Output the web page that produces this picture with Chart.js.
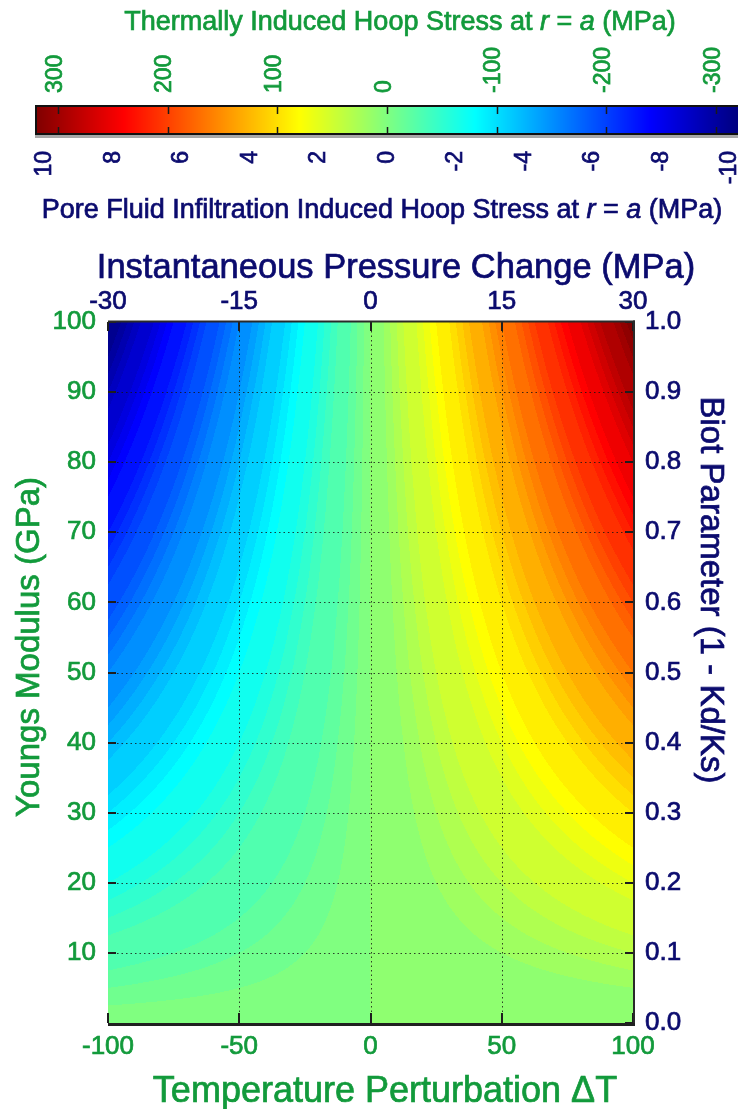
<!DOCTYPE html>
<html>
<head>
<meta charset="utf-8">
<script src="https://cdn.jsdelivr.net/npm/chart.js@4.4.1/dist/chart.umd.min.js"></script>
<style>
  html, body { margin: 0; padding: 0; background: #fff; }
  canvas { display: block; }
</style>
</head>
<body>
<canvas id="bar" width="738" height="230"></canvas>
<canvas id="field" width="738" height="879"></canvas>
<script>
const GREEN = '#129a3b', NAVY = '#0b0b6e';
const FONT = "'Liberation Sans', Arial, Helvetica, sans-serif";

// sampled grid: temperature perturbation (deg) x Young's modulus (GPa)
const tempPerturbation = [-100, -50, 0, 50, 100];
const youngsModulus = [0, 20, 40, 60, 80, 100];
// thermally induced hoop stress at r = a (MPa), one row per modulus value
const hoopStress = [
  [   0,    0, 0,   0,   0],
  [ -64,  -32, 0,  32,  64],
  [-128,  -64, 0,  64, 128],
  [-192,  -96, 0,  96, 192],
  [-256, -128, 0, 128, 256],
  [-320, -160, 0, 160, 320]
];
const stressRange = [-320, 320];   // colour axis limits (MPa)
const levelStep = 8;               // contour spacing (MPa)

const tempTicks = [-100, -50, 0, 50, 100];
const modulusTicks = [10, 20, 30, 40, 50, 60, 70, 80, 90, 100];
const pressureTicks = [-30, -15, 0, 15, 30];
const biotTicks = [0, 0.1, 0.2, 0.3, 0.4, 0.5, 0.6, 0.7, 0.8, 0.9, 1.0];
const thermalTicks = [300, 200, 100, 0, -100, -200, -300];
const poreTicks = [10, 8, 6, 4, 2, 0, -2, -4, -6, -8, -10];

// matlab-style jet colormap with m entries
function jetMap(m){
  const n = Math.ceil(m / 4), u = [];
  for (let i = 1; i <= n; i++) u.push(i / n);
  for (let i = 1; i < n; i++) u.push(1);
  for (let i = n; i >= 1; i--) u.push(i / n);
  const g0 = Math.ceil(n / 2) - (m % 4 === 1 ? 1 : 0);
  const map = Array.from({length: m}, () => [0, 0, 0]);
  u.forEach((v, k) => {
    const g = g0 + k + 1, r = g + n, b = g - n;
    if (g >= 1 && g <= m) map[g - 1][1] = v;
    if (r >= 1 && r <= m) map[r - 1][0] = v;
    if (b >= 1 && b <= m) map[b - 1][2] = v;
  });
  return map;
}
const JET = jetMap(64);

function smoothJet(t){
  const c = v => Math.max(0, Math.min(1, v));
  return [c(1.5 - Math.abs(4 * t - 3)), c(1.5 - Math.abs(4 * t - 2)), c(1.5 - Math.abs(4 * t - 1))];
}

function bandColour(z){
  const [lo, hi] = stressRange;
  let L = Math.floor(z / levelStep) * levelStep;
  L = Math.max(lo, Math.min(hi - levelStep, L));
  const idx = Math.max(0, Math.min(63, Math.floor((L - lo) / (hi - lo) * 64)));
  return JET[idx];
}

function seg(arr, v){
  let i = 0;
  while (i < arr.length - 2 && v > arr[i + 1]) i++;
  return [i, (v - arr[i]) / (arr[i + 1] - arr[i])];
}
// bilinear value inside the sampled grid
function stressAt(t, e){
  const [i, fx] = seg(tempPerturbation, t);
  const [j, fy] = seg(youngsModulus, e);
  const a = hoopStress[j][i], b = hoopStress[j][i + 1];
  const c = hoopStress[j + 1][i], d = hoopStress[j + 1][i + 1];
  return (a * (1 - fx) + b * fx) * (1 - fy) + (c * (1 - fx) + d * fx) * fy;
}

function fixedSize(size){
  return s => {
    if (s.isHorizontal()) { s.height = size; s.paddingLeft = 0; s.paddingRight = 0; }
    else { s.width = size; s.paddingTop = 0; s.paddingBottom = 0; }
  };
}
const useTicks = list => s => { s.ticks = list.map(v => ({value: v})); };

function axis(position, min, max, ticks, size, colour, fontSize, pad, fmt){
  return {
    type: 'linear', position, min, max,
    afterBuildTicks: useTicks(ticks), afterFit: fixedSize(size),
    grid: {display: false, drawTicks: false}, border: {display: false},
    ticks: {autoSkip: false, maxRotation: 0, padding: pad, color: colour,
      textStrokeColor: colour, textStrokeWidth: 0.7,
      font: {family: FONT, size: fontSize}, callback: fmt || (v => String(v))}
  };
}

// text with italic pieces, centred on the origin, baseline at 0
function drawRich(ctx, parts, size, colour){
  const fonts = parts.map(p => (p[1] ? 'italic ' : '') + size + 'px ' + FONT);
  let total = 0;
  const widths = parts.map((p, i) => { ctx.font = fonts[i]; const w = ctx.measureText(p[0]).width; total += w; return w; });
  let x = -total / 2;
  ctx.fillStyle = colour; ctx.strokeStyle = colour; ctx.lineWidth = 0.7;
  ctx.textBaseline = 'alphabetic'; ctx.textAlign = 'left';
  parts.forEach((p, i) => {
    ctx.font = fonts[i];
    ctx.fillText(p[0], x, 0); ctx.strokeText(p[0], x, 0);
    x += widths[i];
  });
}
const Titles = {
  id: 'titles',
  afterDraw(chart, _args, opts){
    const {ctx} = chart;
    (opts.items || []).forEach(t => {
      ctx.save(); ctx.translate(t.x, t.y); ctx.rotate(t.rot || 0);
      drawRich(ctx, t.parts, t.size, t.color);
      ctx.restore();
    });
  }
};

// ---------- colour bar ----------
const ColourStrip = {
  id: 'colourStrip',
  beforeDatasetsDraw(chart){
    const {ctx, chartArea: a, scales: {thermal}} = chart;
    const [lo, hi] = stressRange;
    for (let px = Math.floor(a.left); px < a.right; px++){
      const v = thermal.getValueForPixel(px + 0.5);
      const [r, g, b] = smoothJet((v - lo) / (hi - lo));
      ctx.fillStyle = `rgb(${r * 255},${g * 255},${b * 255})`;
      ctx.fillRect(px, a.top, 1, a.bottom - a.top);
    }
  },
  afterDatasetsDraw(chart){
    const {ctx, chartArea: a, scales: {thermal}} = chart;
    ctx.save();
    ctx.fillStyle = '#a8a8a8'; ctx.fillRect(a.left, a.bottom, a.right - a.left, 3);
    ctx.strokeStyle = '#1a1a1a'; ctx.lineWidth = 1.5;
    thermalTicks.forEach(v => {
      const x = Math.round(thermal.getPixelForValue(v)) + 0.5;
      ctx.beginPath();
      ctx.moveTo(x, a.top); ctx.lineTo(x, a.top + 9);
      ctx.moveTo(x, a.bottom); ctx.lineTo(x, a.bottom - 8);
      ctx.stroke();
    });
    ctx.lineWidth = 2; ctx.strokeStyle = '#111';
    ctx.beginPath();
    ctx.moveTo(a.right, a.top + 1); ctx.lineTo(a.left + 1, a.top + 1);
    ctx.lineTo(a.left + 1, a.bottom - 1); ctx.lineTo(a.right, a.bottom - 1);
    ctx.stroke();
    ctx.restore();
  }
};

const thermalAxis = axis('top', -320, 321, thermalTicks, 105, GREEN, 23, 12);
thermalAxis.reverse = true;
Object.assign(thermalAxis.ticks, {minRotation: 90, maxRotation: 90, labelOffset: 25});
const poreAxis = axis('bottom', -10.23, 10.29, poreTicks, 95, NAVY, 23, 16);
poreAxis.reverse = true;
Object.assign(poreAxis.ticks, {minRotation: 90, maxRotation: 90});
poreAxis.axis = 'x'; thermalAxis.axis = 'x';

new Chart(document.getElementById('bar'), {
  type: 'scatter',
  data: {datasets: []},
  options: {
    responsive: false, animation: false, events: [], devicePixelRatio: 1,
    layout: {padding: {left: 35, right: 0, top: 0, bottom: 0}},
    plugins: {legend: {display: false}, tooltip: {enabled: false},
      titles: {items: [
        {x: 400, y: 30, size: 27, color: GREEN,
          parts: [['Thermally Induced Hoop Stress at '], ['r', 1], [' = '], ['a', 1], [' (MPa)']]},
        {x: 382, y: 218, size: 27, color: NAVY,
          parts: [['Pore Fluid Infiltration Induced Hoop Stress at '], ['r', 1], [' = '], ['a', 1], [' (MPa)']]}
      ]}},
    scales: {thermal: thermalAxis, pore: poreAxis, y: {display: false, min: 0, max: 1}}
  },
  plugins: [ColourStrip, Titles]
});

// ---------- contour field ----------
const ContourFill = {
  id: 'contourFill',
  beforeDatasetsDraw(chart){
    const {ctx, chartArea: a, scales: {x, y}} = chart;
    const w = Math.round(a.right - a.left), h = Math.round(a.bottom - a.top);
    const off = document.createElement('canvas');
    off.width = w; off.height = h;
    const octx = off.getContext('2d');
    const img = octx.createImageData(w, h);
    for (let py = 0; py < h; py++){
      const e = y.getValueForPixel(a.top + py + 0.5);
      for (let px = 0; px < w; px++){
        const t = x.getValueForPixel(a.left + px + 0.5);
        const c = bandColour(stressAt(t, e));
        const k = (py * w + px) * 4;
        img.data[k] = c[0] * 255; img.data[k + 1] = c[1] * 255; img.data[k + 2] = c[2] * 255; img.data[k + 3] = 255;
      }
    }
    octx.putImageData(img, 0, 0);
    ctx.drawImage(off, a.left, a.top);
  }
};

const Frame = {
  id: 'frame',
  afterDatasetsDraw(chart){
    const {ctx, chartArea: a, scales: {x, y, xTop, yRight}} = chart;
    ctx.save();
    // dotted grid
    ctx.strokeStyle = 'rgba(20,20,20,0.8)'; ctx.lineWidth = 1; ctx.setLineDash([1.5, 3]);
    tempTicks.slice(1, -1).forEach(v => {
      const px = Math.round(x.getPixelForValue(v)) + 0.5;
      ctx.beginPath(); ctx.moveTo(px, a.top); ctx.lineTo(px, a.bottom); ctx.stroke();
    });
    modulusTicks.slice(0, -1).forEach(v => {
      const py = Math.round(y.getPixelForValue(v)) + 0.5;
      ctx.beginPath(); ctx.moveTo(a.left, py); ctx.lineTo(a.right, py); ctx.stroke();
    });
    ctx.setLineDash([]);
    // inward tick marks
    ctx.strokeStyle = '#1e1e1e'; ctx.lineWidth = 2;
    ctx.beginPath();
    modulusTicks.forEach(v => { const py = Math.round(y.getPixelForValue(v)); ctx.moveTo(a.left, py); ctx.lineTo(a.left + 8, py); });
    biotTicks.forEach(v => { const py = Math.round(yRight.getPixelForValue(v)); ctx.moveTo(a.right, py); ctx.lineTo(a.right - 8, py); });
    tempTicks.forEach(v => { const px = Math.round(x.getPixelForValue(v)); ctx.moveTo(px, a.bottom); ctx.lineTo(px, a.bottom - 10); });
    pressureTicks.forEach(v => { const px = Math.round(xTop.getPixelForValue(v)); ctx.moveTo(px, a.top); ctx.lineTo(px, a.top + 9); });
    ctx.stroke();
    // box: top, right, bottom
    ctx.fillStyle = '#2a2a2a';
    ctx.fillRect(a.left, a.top - 1.5, a.right - a.left + 2, 2);
    ctx.fillRect(a.right, a.top - 1.5, 2, a.bottom - a.top + 3);
    ctx.fillStyle = '#202020';
    ctx.fillRect(a.left, a.bottom, a.right - a.left + 2, 3);
    ctx.restore();
  }
};

const gridNodes = [];
youngsModulus.forEach(e => tempPerturbation.forEach(t => gridNodes.push({x: t, y: e})));

new Chart(document.getElementById('field'), {
  type: 'scatter',
  data: {datasets: [{data: gridNodes, pointRadius: 0, showLine: false}]},
  options: {
    responsive: false, animation: false, events: [], devicePixelRatio: 1,
    layout: {padding: 0},
    plugins: {legend: {display: false}, tooltip: {enabled: false},
      titles: {items: [
        {x: 396, y: 48, size: 34.5, color: NAVY, parts: [['Instantaneous Pressure Change (MPa)']]},
        {x: 385, y: 872, size: 36, color: GREEN, parts: [['Temperature Perturbation \u0394T']]},
        {x: 39, y: 417, size: 33, color: GREEN, rot: -Math.PI / 2, parts: [['Youngs Modulus (GPa)']]},
        {x: 701, y: 360, size: 33, color: NAVY, rot: Math.PI / 2, parts: [['Biot Parameter (1 - Kd/Ks)']]}
      ]}},
    scales: {
      x: axis('bottom', -100, 100, tempTicks, 86, GREEN, 26, 8),
      xTop: Object.assign(axis('top', -30, 30, pressureTicks, 92, NAVY, 26, 5), {axis: 'x'}),
      y: axis('left', 0, 100, modulusTicks, 108, GREEN, 26, 12),
      yRight: Object.assign(axis('right', 0, 1, biotTicks, 105, NAVY, 26, 12, v => v.toFixed(1)), {axis: 'y'})
    }
  },
  plugins: [ContourFill, Frame, Titles]
});
</script>
</body>
</html>
